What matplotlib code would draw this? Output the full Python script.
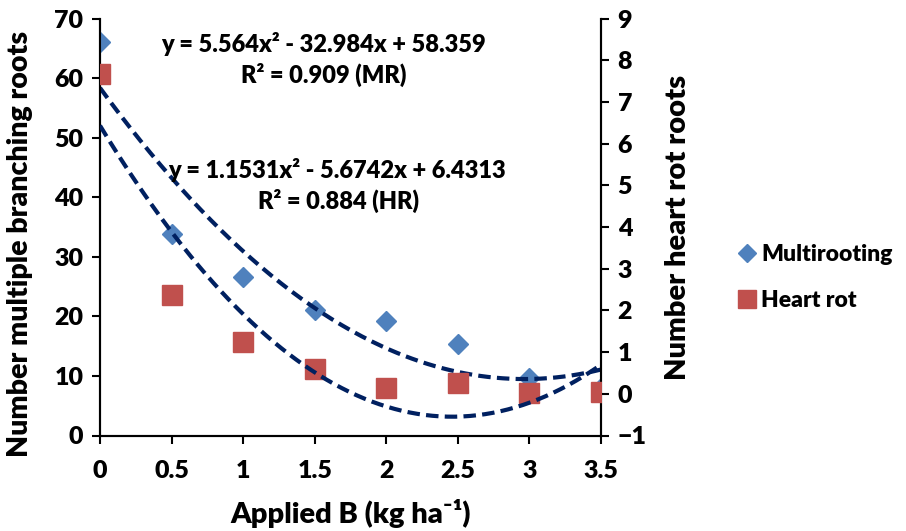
import matplotlib
matplotlib.use("Agg")
import matplotlib.pyplot as plt
import numpy as np

W = 800  # Lato 700 выглядит слишком тонко
plt.rcParams['font.family'] = ['Lato', 'DejaVu Sans']
plt.rcParams['font.weight'] = W
plt.rcParams['axes.labelweight'] = W

# данные
dose = [0, 0.5, 1, 1.5, 2, 2.5, 3, 3.5]
multirooting = [66.1, 33.9, 26.6, 21.1, 19.3, 15.3, 9.6, 8.0]
heart_rot = [7.66, 2.37, 1.25, 0.6, 0.13, 0.25, 0.01, 0.05]

# коэффициенты линий тренда (из подписей на графике)
coef_mr = [5.564, -32.984, 58.359]
coef_hr = [1.1531, -5.6742, 6.4313]
eq_mr = ["y = 5.564x² - 32.984x + 58.359", "R² = 0.909 (MR)"]
eq_hr = ["y = 1.1531x² - 5.6742x + 6.4313", "R² = 0.884 (HR)"]

blue = "#4F81BD"
red = "#C0504D"
navy = "#002060"

fig = plt.figure(figsize=(9.06, 5.31), dpi=100)
ax = fig.add_axes([100/906, 1 - 435.5/531, 501/906, 417/531])
ax2 = ax.twinx()

xs = np.linspace(0, 3.5, 200)
ax.plot(dose, multirooting, "D", color=blue, ms=9.7, mec=blue, zorder=3, label="Multirooting")
ax2.plot(dose, heart_rot, "s", color=red, ms=15, mec=red, zorder=3, label="Heart rot")
ax.plot(xs, np.polyval(coef_mr, xs), color=navy, lw=3, ls=(0, (3, 1.5)), zorder=4)
ax2.plot(xs, np.polyval(coef_hr, xs), color=navy, lw=3, ls=(0, (3, 1.5)), zorder=4)

ax.set_xlim(0, 3.5)
ax.set_ylim(0, 70)
ax2.set_ylim(-1, 9)
ax.set_xticks(dose)
ax.set_xticklabels(["0", "0.5", "1", "1.5", "2", "2.5", "3", "3.5"])
ax.set_yticks(range(0, 71, 10))
ax2.set_yticks(range(-1, 10))

for a in (ax, ax2):
    a.spines['top'].set_visible(False)
    for s in a.spines.values():
        s.set_linewidth(1.5)
    a.tick_params(width=1.5, length=6, labelsize=18, direction='out')
ax.tick_params(axis='x', pad=12)
ax.tick_params(axis='y', pad=6)
ax2.tick_params(axis='y', pad=6)

ax.set_xlabel("Applied B (kg ha⁻¹)", fontsize=21, fontweight=W, labelpad=12)
ax.set_ylabel("Number multiple branching roots", fontsize=20.5, fontweight=W)
ax.yaxis.set_label_coords(-0.134, 0.459)
ax2.set_ylabel("Number heart rot roots", fontsize=21, fontweight=W)
ax2.yaxis.set_label_coords(1.128, 0.5)

# подписи уравнений
def px(x, y):
    return x / 906, 1 - y / 531

fig.text(*px(323, 44), eq_mr[0], ha='center', va='center', fontsize=17, fontweight=W)
fig.text(*px(324, 75), eq_mr[1], ha='center', va='center', fontsize=17, fontweight=W)
fig.text(*px(337, 170), eq_hr[0], ha='center', va='center', fontsize=17, fontweight=W)
fig.text(*px(338, 201), eq_hr[1], ha='center', va='center', fontsize=17, fontweight=W)

h1, l1 = ax.get_legend_handles_labels()
h2, l2 = ax2.get_legend_handles_labels()
fig.legend(h1 + h2, l1 + l2, loc='center left', bbox_to_anchor=(717/906, 1 - 277.5/531),
           frameon=False, handlelength=0.8, handletextpad=0.23,
           labelspacing=1.05, markerscale=0.9, prop={'weight': W, 'size': 16.5})

fig.savefig("out.png", dpi=100)
